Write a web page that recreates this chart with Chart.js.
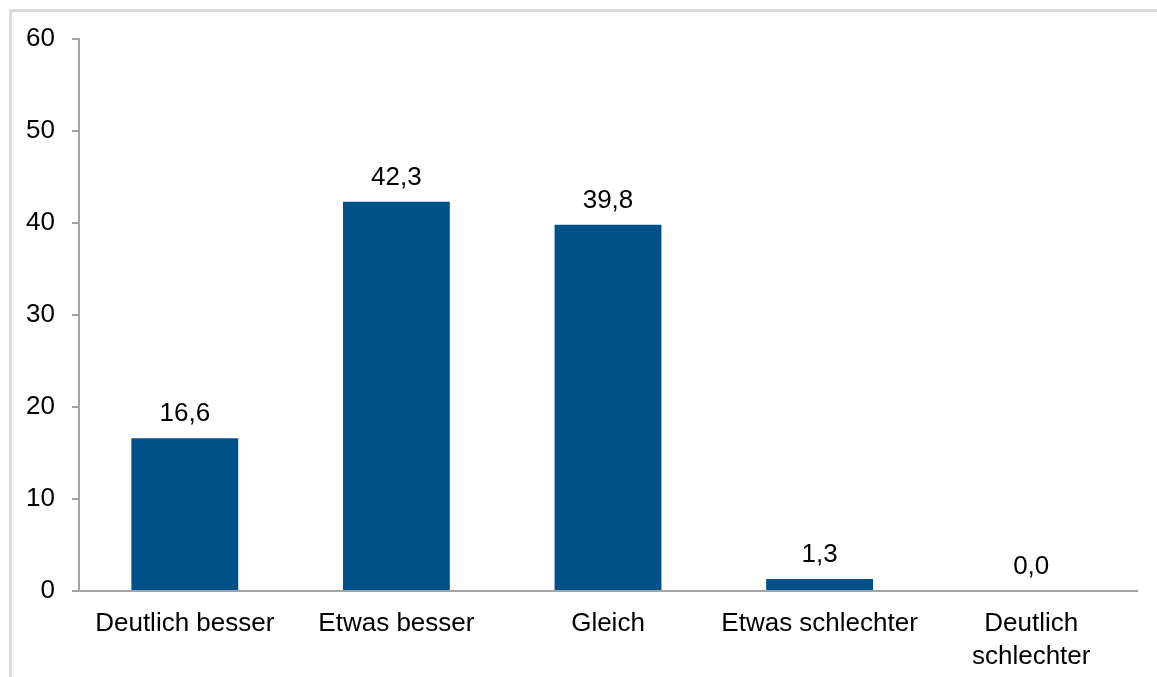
<!DOCTYPE html>
<html>
<head>
<meta charset="utf-8">
<script src="https://cdn.jsdelivr.net/npm/chart.js@4.4.0/dist/chart.umd.min.js"></script>
<style>
  html, body { margin: 0; padding: 0; background: #fff; overflow: hidden; }
  #frame {
    position: absolute; left: 9px; top: 9px;
    width: 1300px; height: 800px;
    border-top: 3px solid #dadada; border-left: 3px solid #dadada;
  }
  #wrap { position: absolute; left: 0; top: 0; width: 1157px; height: 677px; }
</style>
</head>
<body>
<div id="frame"></div>
<div id="wrap"><canvas id="chartBars"></canvas></div>
<script>
// ═══════════════════════════════════════════════════════
// Einschätzung — Verteilung der Antworten (in %)
// ═══════════════════════════════════════════════════════

var categories = [
  'Deutlich besser',
  'Etwas besser',
  'Gleich',
  'Etwas schlechter',
  ['Deutlich', 'schlechter']
];
var shares = [16.6, 42.3, 39.8, 1.3, 0.0];
var yTicks = [0, 10, 20, 30, 40, 50, 60];

var BAR_COLOR  = '#00508a';
var AXIS_COLOR = '#a3a3a3';
var FONT       = '"Liberation Sans", Arial, sans-serif';

function _fmt(v) {
  return v.toFixed(1).replace('.', ',');
}

// value labels above each bar
var barLabels = {
  id: 'barLabels',
  afterDatasetsDraw: function(chart) {
    var ctx = chart.ctx;
    var meta = chart.getDatasetMeta(0);
    ctx.save();
    ctx.font = '26px ' + FONT;
    ctx.fillStyle = '#000';
    ctx.textAlign = 'center';
    ctx.textBaseline = 'alphabetic';
    meta.data.forEach(function(bar, i) {
      ctx.fillText(_fmt(shares[i]), bar.x, bar.y - 17);
    });
    ctx.restore();
  }
};

new Chart(document.getElementById('chartBars'), {
  type: 'bar',
  data: {
    labels: categories,
    datasets: [{
      data: shares,
      backgroundColor: BAR_COLOR,
      borderWidth: 0,
      barPercentage: 0.505,
      categoryPercentage: 1
    }]
  },
  options: {
    responsive: true,
    maintainAspectRatio: false,
    animation: false,
    layout: { padding: { top: 39, right: 20, bottom: 0, left: 0 } },
    plugins: {
      legend: { display: false },
      tooltip: { enabled: false }
    },
    scales: {
      x: {
        grid: { display: false, drawTicks: false },
        border: { display: true, color: AXIS_COLOR, width: 2 },
        ticks: {
          color: '#000',
          padding: 16,
          maxRotation: 0,
          autoSkip: false,
          font: { family: FONT, size: 26, lineHeight: 1.27 }
        },
        afterFit: function(scale) { scale.height = 86; }
      },
      y: {
        min: yTicks[0],
        max: yTicks[yTicks.length - 1],
        grid: { drawOnChartArea: false, drawTicks: true, tickLength: 7, color: AXIS_COLOR, lineWidth: 2 },
        border: { display: true, color: AXIS_COLOR, width: 2 },
        afterBuildTicks: function(scale) {
          scale.ticks = yTicks.map(function(v) { return { value: v }; });
        },
        ticks: {
          color: '#000',
          padding: 17,
          font: { family: FONT, size: 26 }
        },
        afterFit: function(scale) { scale.width = 79; }
      }
    }
  },
  plugins: [barLabels]
});
</script>
</body>
</html>
